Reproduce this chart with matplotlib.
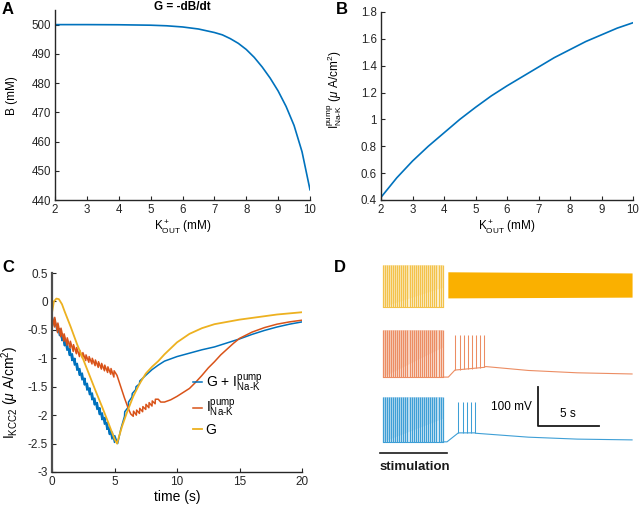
import matplotlib
matplotlib.use("Agg")
import matplotlib.pyplot as plt

plt.rcParams["font.family"] = ["Liberation Sans", "DejaVu Sans"]
plt.rcParams["mathtext.fontset"] = "custom"
plt.rcParams["mathtext.rm"] = "Liberation Sans"
plt.rcParams["mathtext.it"] = "Liberation Sans:italic"
plt.rcParams["mathtext.bf"] = "Liberation Sans:bold"

BLUE = "#0072BD"
ORANGE = "#D95319"
YELLOW = "#EDB120"

PUMP = r"$^{\mathrm{pump}}_{\mathrm{Na" + "\u2010" + r"K}}$"

# ---- panel A: B vs K_out ----
a_k = [2, 3, 4, 5, 5.5, 6, 6.5, 7, 7.25, 7.5, 7.75, 8, 8.25, 8.5, 8.75, 9,
       9.25, 9.5, 9.75, 10]
a_b = [500, 500, 499.95, 499.8, 499.6, 499.2, 498.5, 497.3, 496.5, 495.2,
       493.6, 491.5, 488.8, 485.5, 481.7, 477.3, 472.0, 465.5, 456.5, 443.5]

# ---- panel B: pump current vs K_out ----
b_k = [2, 2.5, 3, 3.5, 4, 4.5, 5, 5.5, 6, 6.5, 7, 7.5, 8, 8.5, 9, 9.5, 10]
b_i = [0.42, 0.565, 0.69, 0.80, 0.90, 1.0, 1.09, 1.175, 1.25, 1.32, 1.39,
       1.46, 1.52, 1.58, 1.63, 1.68, 1.72]

# ---- panel C: I_KCC2 traces ----
c_g_t = [0, 0.15, 0.35, 0.55, 0.8, 1.0, 1.5, 2.0, 2.5, 3.0, 3.5, 4.0, 4.5,
         5.0, 5.2, 5.6, 6.0, 6.5, 7.0, 7.5, 8.0, 8.5, 9.0, 10, 11, 12, 13,
         14, 15, 16, 17, 18, 19, 20]
c_g_v = [-0.2, 0.0, 0.05, 0.04, -0.05, -0.17, -0.45, -0.75, -1.02, -1.3,
         -1.58, -1.85, -2.13, -2.42, -2.5, -2.2, -1.95, -1.67, -1.45, -1.27,
         -1.15, -1.05, -0.93, -0.72, -0.57, -0.47, -0.4, -0.36, -0.32, -0.29,
         -0.26, -0.23, -0.21, -0.19]

c_sum_t = [0, 0.2, 0.22, 0.4, 0.42, 0.6, 0.62, 0.8, 0.82, 1.0, 1.02, 1.2,
           1.22, 1.4, 1.42, 1.6, 1.62, 1.8, 1.82, 2.0, 2.02, 2.2, 2.22, 2.4,
           2.42, 2.6, 2.62, 2.8, 2.82, 3.0, 3.02, 3.2, 3.22, 3.4, 3.42, 3.6,
           3.62, 3.8, 3.82, 4.0, 4.02, 4.2, 4.22, 4.4, 4.42, 4.6, 4.62, 4.8,
           4.82, 5.0, 5.02, 5.25, 5.5, 5.8, 5.82, 6.1, 6.12, 6.4, 6.42, 6.7,
           6.72, 7.0, 7.02, 7.5, 8, 8.5, 9, 10, 11, 12, 13, 14, 15, 16, 17,
           18, 19, 20]
c_sum_v = [-0.25, -0.43, -0.31, -0.52, -0.4, -0.6, -0.48, -0.69, -0.57,
           -0.78, -0.66, -0.86, -0.74, -0.95, -0.83, -1.04, -0.92, -1.12,
           -1.0, -1.21, -1.09, -1.3, -1.18, -1.38, -1.26, -1.47, -1.35,
           -1.56, -1.44, -1.64, -1.52, -1.73, -1.61, -1.82, -1.7, -1.9,
           -1.78, -1.99, -1.87, -2.08, -1.96, -2.16, -2.04, -2.25, -2.13,
           -2.34, -2.22, -2.42, -2.3, -2.48, -2.36, -2.5, -2.25, -2.02,
           -1.94, -1.86, -1.77, -1.68, -1.62, -1.55, -1.5, -1.45, -1.4, -1.3,
           -1.2, -1.12, -1.05, -0.97, -0.91, -0.85, -0.8, -0.73, -0.66,
           -0.58, -0.51, -0.45, -0.4, -0.36]

c_pump_t = [0, 0.2, 0.22, 0.45, 0.47, 0.7, 0.72, 0.95, 0.97, 1.2, 1.22, 1.45,
            1.47, 1.7, 1.72, 1.95, 1.97, 2.2, 2.22, 2.45, 2.47, 2.7, 2.72,
            2.95, 2.97, 3.2, 3.22, 3.45, 3.47, 3.7, 3.72, 3.95, 3.97, 4.2,
            4.22, 4.45, 4.47, 4.7, 4.72, 4.95, 4.97, 5.2, 5.5, 5.8, 6.1, 6.3,
            6.5, 6.52, 6.75, 6.77, 7.0, 7.02, 7.25, 7.27, 7.5, 7.52, 7.75,
            7.77, 8.0, 8.02, 8.25, 8.27, 8.5, 8.7, 9.0, 9.5, 10, 10.5, 11,
            11.5, 12, 12.5, 13, 13.5, 14, 14.5, 15, 16, 17, 18, 19, 20]
c_pump_v = [-0.25, -0.45, -0.28, -0.55, -0.38, -0.62, -0.47, -0.7, -0.57,
            -0.77, -0.64, -0.82, -0.7, -0.88, -0.76, -0.92, -0.81, -0.97,
            -0.86, -1.0, -0.9, -1.04, -0.94, -1.07, -0.97, -1.1, -1.0,
            -1.13, -1.03, -1.16, -1.06, -1.19, -1.09, -1.22, -1.12, -1.25,
            -1.15, -1.28, -1.18, -1.33, -1.22, -1.3, -1.5, -1.7, -1.88,
            -1.98, -2.02, -1.93, -2.0, -1.91, -1.97, -1.88, -1.94, -1.85,
            -1.9, -1.81, -1.87, -1.78, -1.84, -1.75, -1.8, -1.72, -1.72,
            -1.77, -1.77, -1.73, -1.67, -1.6, -1.53, -1.42, -1.3, -1.17,
            -1.06, -0.94, -0.84, -0.74, -0.65, -0.54, -0.46, -0.4, -0.36,
            -0.33]

# ---- panel D: membrane potential traces (mV, each trace offset) ----
stim_spikes = [0.05, 0.22, 0.39, 0.56, 0.73, 0.90, 1.07, 1.24, 1.41, 1.58,
               1.75, 1.92, 2.09, 2.26, 2.43, 2.60, 2.77, 2.94, 3.11, 3.28,
               3.45, 3.62, 3.79, 3.96, 4.13, 4.30, 4.47, 4.64, 4.81, 4.98]
stim_span = [-0.16, 5.33]

y_stim_trough, y_stim_peak, y_ramp_top = 431, 538, 482
y_band_t = [5.4, 20.5]
y_band_lo = [454, 456]
y_band_hi = [521, 518]

o_stim_trough, o_stim_peak, o_ramp_top = 251, 372, 329
o_post_spikes = [6.0, 6.4, 6.72, 7.05, 7.38, 7.72, 8.05, 8.38]
o_post_base = [269, 270, 271, 272, 273, 274, 275, 276]
o_post_peak = 359
o_slow_t = [5.0, 5.44, 5.98, 8.38, 8.5, 12, 16, 20.5]
o_slow_v = [251, 251, 269, 276, 278, 268, 262, 259]

b_stim_trough, b_stim_peak, b_ramp_top = 85, 200, 146
b_post_spikes = [6.26, 6.61, 6.94, 7.27, 7.6]
b_post_base = [108, 108, 108, 108, 108]
b_post_peak = 188
b_slow_t = [5.0, 5.33, 6.26, 7.6, 7.7, 12, 16, 20.5]
b_slow_v = [85, 85, 108, 108, 107, 97, 92, 90]


def style_axes(ax, fs=8):
    for s in ("top", "right"):
        ax.spines[s].set_visible(False)
    for s in ("left", "bottom"):
        ax.spines[s].set_color("#262626")
        ax.spines[s].set_linewidth(1.0)
    ax.tick_params(direction="in", length=3, width=0.8, labelsize=fs,
                   colors="#262626", pad=3)


fig = plt.figure(figsize=(6.4, 5.07), dpi=100)

# A
axA = fig.add_axes([55 / 640, 1 - 200 / 507, 255 / 640, 190 / 507])
axA.plot(a_k, a_b, color=BLUE, lw=1.2)
axA.set_xlim(2, 10)
axA.set_ylim(440, 505)
axA.set_xticks(range(2, 11))
axA.set_yticks(range(440, 501, 10))
style_axes(axA, 8.3)
axA.set_xlabel(r"K$^+_{\mathrm{OUT}}$ (mM)", fontsize=8.5, labelpad=2)
axA.set_ylabel("B (mM)", fontsize=8.5)
axA.yaxis.set_label_coords(-0.145, 0.55)
fig.text(182 / 640, 1 - 7 / 507, "G = -dB/dt", ha="center", va="center",
         fontsize=8.5, fontweight="bold")

# B
axB = fig.add_axes([381 / 640, 1 - 200 / 507, 252 / 640, 188 / 507])
axB.plot(b_k, b_i, color=BLUE, lw=1.2)
axB.set_xlim(2, 10)
axB.set_ylim(0.4, 1.8)
axB.set_xticks(range(2, 11))
axB.set_yticks([0.4, 0.6, 0.8, 1.0, 1.2, 1.4, 1.6, 1.8])
axB.set_yticklabels(["0.4", "0.6", "0.8", "1", "1.2", "1.4", "1.6", "1.8"])
style_axes(axB, 8.3)
axB.set_xlabel(r"K$^+_{\mathrm{OUT}}$ (mM)", fontsize=8.5, labelpad=2)
axB.set_ylabel("I" + PUMP + r" ($\mu$ A/cm$^2$)", fontsize=8.5)
axB.yaxis.set_label_coords(-0.145, 0.585)

# C
axC = fig.add_axes([52 / 640, 1 - 472 / 507, 250 / 640, 199 / 507])
axC.plot(c_sum_t, c_sum_v, color=BLUE, lw=1.1, label="G + I" + PUMP)
axC.plot(c_pump_t, c_pump_v, color=ORANGE, lw=1.1, label="I" + PUMP)
axC.plot(c_g_t, c_g_v, color=YELLOW, lw=1.3, label="G")
axC.set_xlim(0, 20)
axC.set_ylim(-3, 0.5)
axC.set_xticks([0, 5, 10, 15, 20])
axC.set_yticks([-3, -2.5, -2, -1.5, -1, -0.5, 0, 0.5])
axC.set_yticklabels(["-3", "-2.5", "-2", "-1.5", "-1", "-0.5", "0", "0.5"])
style_axes(axC, 8.5)
axC.spines["left"].set_linewidth(1.6)
axC.spines["left"].set_color("#4d4d4d")
axC.set_xlabel("time (s)", fontsize=10, labelpad=1)
axC.set_ylabel(r"I$_{\mathrm{KCC2}}$ ($\mu$ A/cm$^2$)", fontsize=10)
axC.yaxis.set_label_coords(-0.125, 0.4)
axC.legend(loc="upper left", bbox_to_anchor=(0.565, 0.50), frameon=False,
           fontsize=10, handlelength=0.6, handletextpad=0.3,
           labelspacing=0.3, borderaxespad=0, borderpad=0)

# D
axD = fig.add_axes([370 / 640, 1 - 475 / 507, 270 / 640, 220 / 507])
axD.set_xlim(-0.98, 21.15)
axD.set_ylim(0, 564)
axD.axis("off")

traces = [
    ("#F3C24A", "#FBEBC0", y_stim_trough, y_stim_peak, y_ramp_top),
    ("#EC8D63", "#F8D8C8", o_stim_trough, o_stim_peak, o_ramp_top),
    ("#3E9FD6", "#C6E2F3", b_stim_trough, b_stim_peak, b_ramp_top),
]
for col, tint, lo, hi, ramp in traces:
    span = [stim_spikes[0], stim_spikes[-1]]
    axD.fill_between(span, [lo, lo], [hi, hi], color=tint, lw=0)
    axD.vlines(stim_spikes, lo, hi, color=col, lw=0.9)
    axD.plot(span, [lo, lo], color=col, lw=0.8)
    axD.fill_between([span[0] - 0.05, span[1] + 0.05],
                     [lo - 3, lo - 3], [lo, ramp], color="white", alpha=0.5,
                     lw=0)

axD.fill_between(y_band_t, y_band_lo, y_band_hi, color="#FAB000", lw=0)

axD.vlines(o_post_spikes, o_post_base, o_post_peak, color="#EC8D63", lw=0.75)
axD.plot(o_slow_t, o_slow_v, color="#EC8D63", lw=0.8)
axD.vlines(b_post_spikes, b_post_base, b_post_peak, color="#3E9FD6", lw=0.75)
axD.plot(b_slow_t, b_slow_v, color="#3E9FD6", lw=0.8)

axD.plot(stim_span, [56, 56], color="#1a1a1a", lw=1.2)
axD.text(2.7, 21, "stimulation", ha="center", va="center", fontsize=9.5,
         fontweight="bold", color="#1a1a1a")
axD.plot([12.8, 12.8, 17.8], [226, 126, 126], color="#1a1a1a", lw=1.3)
axD.text(12.3, 174, "100 mV", ha="right", va="center", fontsize=8.5)
axD.text(15.25, 156, "5 s", ha="center", va="center", fontsize=8.5)

for lab, x, y in [("A", 8, 10), ("B", 342, 10), ("C", 8, 268), ("D", 340, 267)]:
    fig.text(x / 640, 1 - y / 507, lab, ha="center", va="center",
             fontsize=12, fontweight="bold")

fig.savefig("out.png", dpi=100)
